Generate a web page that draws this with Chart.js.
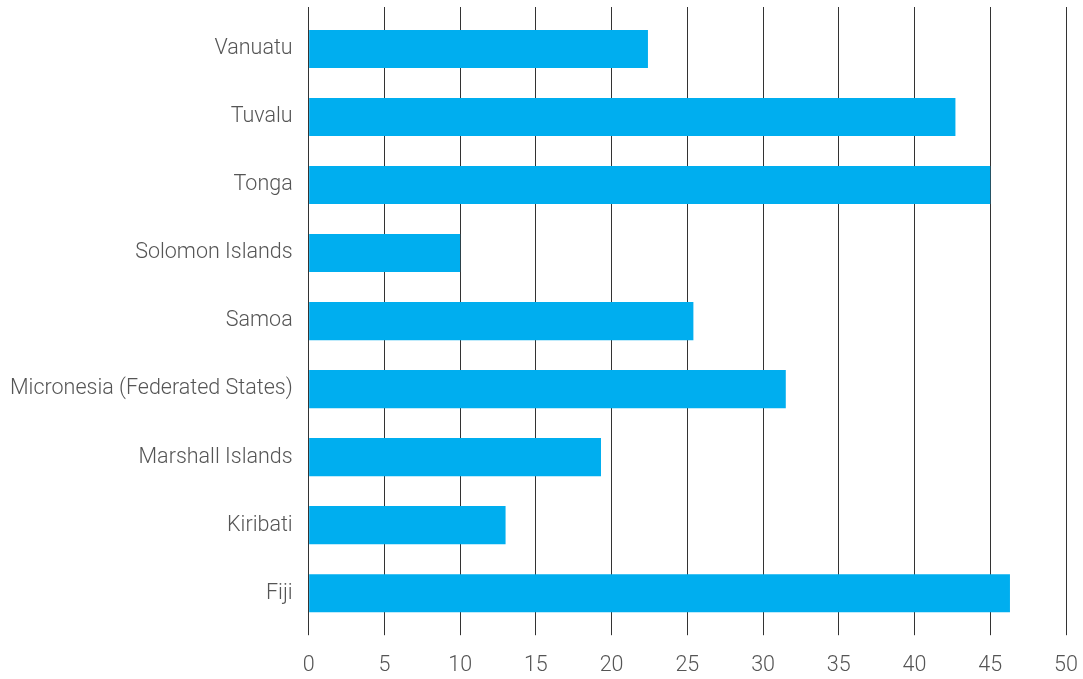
<!DOCTYPE html>
<html>
<head>
<meta charset="utf-8">
<script src="https://cdn.jsdelivr.net/npm/chart.js@4"></script>
<style>
  html, body { margin: 0; padding: 0; background: #fff; }
  #wrap { width: 1083px; height: 679px; }
</style>
</head>
<body>
<div id="wrap"><canvas id="chart" width="1083" height="679"></canvas></div>
<script>
// categories, top to bottom as in the picture
const countries = ["Vanuatu", "Tuvalu", "Tonga", "Solomon Islands", "Samoa",
  "Micronesia (Federated States)", "Marshall Islands", "Kiribati", "Fiji"];
const values = [22.4, 42.7, 45.0, 10.0, 25.4, 31.5, 19.3, 13.0, 46.3];
const xTicks = [0, 5, 10, 15, 20, 25, 30, 35, 40, 45, 50];

const labelFont = { family: "Roboto, 'Liberation Sans', sans-serif", size: 21.5, weight: 300 };

const ctx = document.getElementById("chart").getContext("2d");
new Chart(ctx, {
  type: "bar",
  data: {
    labels: countries,
    datasets: [{
      data: values,
      backgroundColor: "#00aeef",
      borderWidth: 0,
      barPercentage: 0.56,
      categoryPercentage: 1
    }]
  },
  options: {
    indexAxis: "y",
    responsive: false,
    animation: false,
    layout: { padding: { top: 7, right: 4, bottom: -18, left: 2 } },
    plugins: { legend: { display: false }, tooltip: { enabled: false } },
    scales: {
      x: {
        min: 0, max: 50,
        afterBuildTicks: (s) => { s.ticks = xTicks.map(v => ({ value: v })); },
        // tick padding is only wanted below the axis, not at its right end
        afterFit: (s) => { s.paddingRight = 17; },
        grid: { color: "#333", lineWidth: 1, tickLength: 8, drawOnChartArea: true, z: -1 },
        border: { display: false },
        ticks: { color: "#555", font: labelFont, padding: 18 }
      },
      x2: {
        position: "top",
        min: 0, max: 50,
        afterBuildTicks: (s) => { s.ticks = xTicks.map(v => ({ value: v })); },
        grid: { color: "#333", lineWidth: 1, tickLength: 8, drawOnChartArea: false },
        border: { display: false },
        ticks: { display: false }
      },
      y: {
        afterFit: (s) => { s.paddingTop = 0; s.paddingBottom = 0; },
        grid: { display: false },
        border: { display: false },
        ticks: { color: "#555", font: labelFont, padding: 8 }
      }
    }
  }
});
</script>
</body>
</html>
